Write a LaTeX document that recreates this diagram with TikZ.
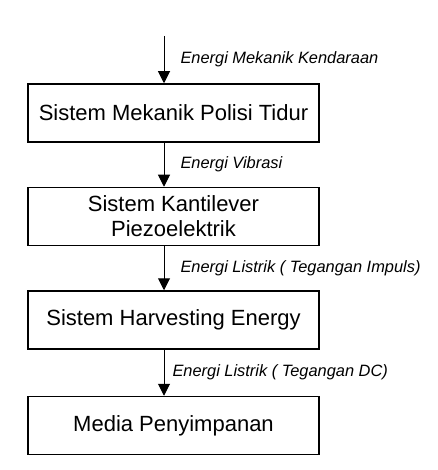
\documentclass[tikz,border=0pt]{standalone}
\usepackage{fontspec}
\setmainfont{Liberation Sans}
\usetikzlibrary{arrows.meta, positioning}

\begin{document}
\begin{tikzpicture}[x=1pt, y=-1pt,
  box/.style={draw, line width=1.5pt, minimum width=291pt, minimum height=58pt,
    align=center, font=\fontsize{22}{25}\selectfont},
  flow/.style={-{Triangle[length=12pt,width=12pt]}, line width=1pt},
  lbl/.style={anchor=west, inner sep=0pt, font=\fontsize{16.4}{18}\selectfont\itshape}]
  \useasboundingbox (0,0) rectangle (437,470);
  % blocks
  \node[box] (mekanik) at (173.5,113) {Sistem Mekanik Polisi Tidur};
  \node[box, below=44pt of mekanik] (kantilever) {Sistem Kantilever\\Piezoelektrik};
  \node[box, below=44pt of kantilever] (harvest) {Sistem Harvesting Energy};
  \node[box, below=46pt of harvest] (media) {Media Penyimpanan};
  % energy flow
  \coordinate (input) at (164,36);
  \draw[flow] (input) -- (input |- mekanik.north)
    node[lbl, midway, xshift=16pt] {Energi Mekanik Kendaraan};
  \draw[flow] (mekanik.south -| input) -- (kantilever.north -| input)
    node[lbl, midway, xshift=16pt] {Energi Vibrasi};
  \draw[flow] (kantilever.south -| input) -- (harvest.north -| input)
    node[lbl, midway, xshift=16pt] {Energi Listrik ( Tegangan Impuls)};
  \draw[flow] (harvest.south -| input) -- (media.north -| input)
    node[lbl, midway, xshift=8pt] {Energi Listrik ( Tegangan DC)};
\end{tikzpicture}
\end{document}
